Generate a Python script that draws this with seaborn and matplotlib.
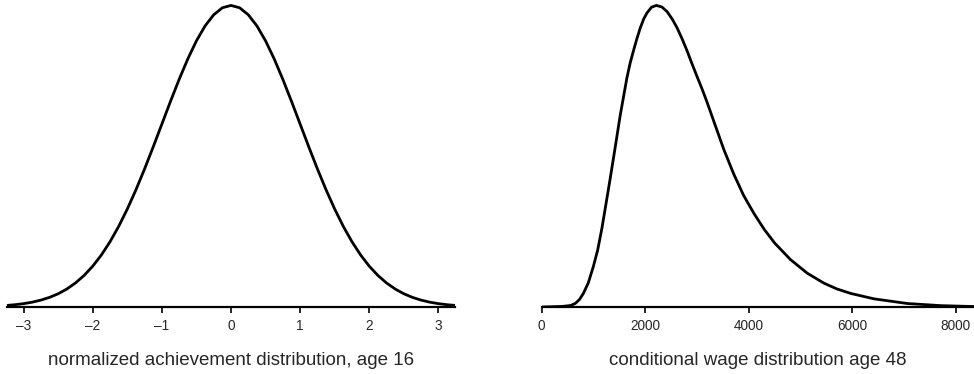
import numpy as np
import pandas as pd
import matplotlib
matplotlib.use("Agg")
import matplotlib.pyplot as plt
import seaborn as sns

# ---- left panel: normalized achievement density (peak = 1) ----
ach_x = [-3.25, -3.125, -3.0, -2.875, -2.75, -2.625, -2.5, -2.375, -2.25, -2.125, -2.0,
         -1.875, -1.75, -1.625, -1.5, -1.375, -1.25, -1.125,
         -1.0, -0.875, -0.75, -0.625, -0.5, -0.375, -0.25, -0.125, 0.0,
         0.125, 0.25, 0.375, 0.5, 0.625, 0.75, 0.875, 1.0, 1.125, 1.25, 1.375,
         1.5, 1.625, 1.75, 1.875, 2.0, 2.125, 2.25, 2.375, 2.5, 2.625, 2.75, 2.875,
         3.0, 3.125, 3.25]
ach_y = [0.0051, 0.0076, 0.0111, 0.0160, 0.0228, 0.0319, 0.0439, 0.0596, 0.0796, 0.1046, 0.1353,
         0.1724, 0.2163, 0.2671, 0.3247, 0.3886, 0.4578, 0.5311,
         0.6065, 0.6820, 0.7548, 0.8226, 0.8825, 0.9321, 0.9690, 0.9922, 1.0,
         0.9922, 0.9690, 0.9321, 0.8825, 0.8226, 0.7548, 0.6820, 0.6065, 0.5311, 0.4578, 0.3886,
         0.3247, 0.2671, 0.2163, 0.1724, 0.1353, 0.1046, 0.0796, 0.0596, 0.0439, 0.0319, 0.0228,
         0.0160, 0.0111, 0.0076, 0.0051]

# ---- right panel: conditional wage density age 48 (peak = 1) ----
wage_x = [0, 400, 560, 650, 730, 805, 900, 999, 1080, 1162, 1240, 1322, 1420, 1516, 1646, 1710,
          1773, 1839, 1903, 1970, 2033, 2120, 2213, 2320, 2420, 2520, 2614, 2710, 2807, 2900,
          3001, 3100, 3194, 3322, 3516, 3709, 3900, 4100, 4300, 4500, 4807, 5130, 5452, 5700,
          5969, 6420, 7066, 7711, 8350]
wage_y = [0.0, 0.002, 0.005, 0.012, 0.025, 0.045, 0.080, 0.135, 0.188, 0.260, 0.340, 0.425,
          0.530, 0.635, 0.760, 0.810, 0.850, 0.890, 0.925, 0.955, 0.975, 0.994, 1.0, 0.995,
          0.980, 0.955, 0.926, 0.890, 0.850, 0.808, 0.764, 0.722, 0.679, 0.617, 0.523, 0.441,
          0.370, 0.310, 0.257, 0.212, 0.157, 0.112, 0.079, 0.060, 0.045, 0.027, 0.0115,
          0.0045, 0.0015]

left_ticks = [-3, -2, -1, 0, 1, 2, 3]
left_ticklabels = ["\u20133", "\u20132", "\u20131", "0", "1", "2", "3"]
right_ticks = [0, 2000, 4000, 6000, 8000]
right_ticklabels = ["0", "2000", "4000", "6000", "8000"]
left_label = "normalized achievement distribution, age 16"
right_label = "conditional wage distribution age 48"

sns.set_style("white")
plt.rcParams["font.family"] = ["Liberation Sans", "DejaVu Sans"]

fig = plt.figure(figsize=(9.74, 3.74), dpi=100)
ax1 = fig.add_axes([7 / 974, 67 / 374, 448 / 974, 307 / 374])
ax2 = fig.add_axes([541.7 / 974, 67 / 374, 432.3 / 974, 307 / 374])

df1 = pd.DataFrame({"x": ach_x, "y": ach_y})
df2 = pd.DataFrame({"x": wage_x, "y": wage_y})
sns.lineplot(data=df1, x="x", y="y", ax=ax1, color="black", lw=2.0, sort=False)
sns.lineplot(data=df2, x="x", y="y", ax=ax2, color="black", lw=2.0, sort=False)

for ax, lim, ticks, labels, xl in [
    (ax1, (-3.24, 3.24), left_ticks, left_ticklabels, left_label),
    (ax2, (0, 8350), right_ticks, right_ticklabels, right_label),
]:
    ax.set_xlim(*lim)
    ax.set_ylim(0, 1.018)
    ax.set_xticks(ticks)
    ax.set_xticklabels(labels, fontsize=9.8)
    ax.set_yticks([])
    ax.set_ylabel("")
    ax.set_xlabel(xl, fontsize=13.5, labelpad=14)
    for s in ["top", "left", "right"]:
        ax.spines[s].set_visible(False)
    ax.spines["bottom"].set_linewidth(1.6)
    ax.spines["bottom"].set_color("black")
    ax.tick_params(axis="x", direction="out", length=4, width=1.2, color="black",
                   pad=4.5, bottom=True)
    ax.patch.set_alpha(0)

fig.savefig("out.png", dpi=100)
